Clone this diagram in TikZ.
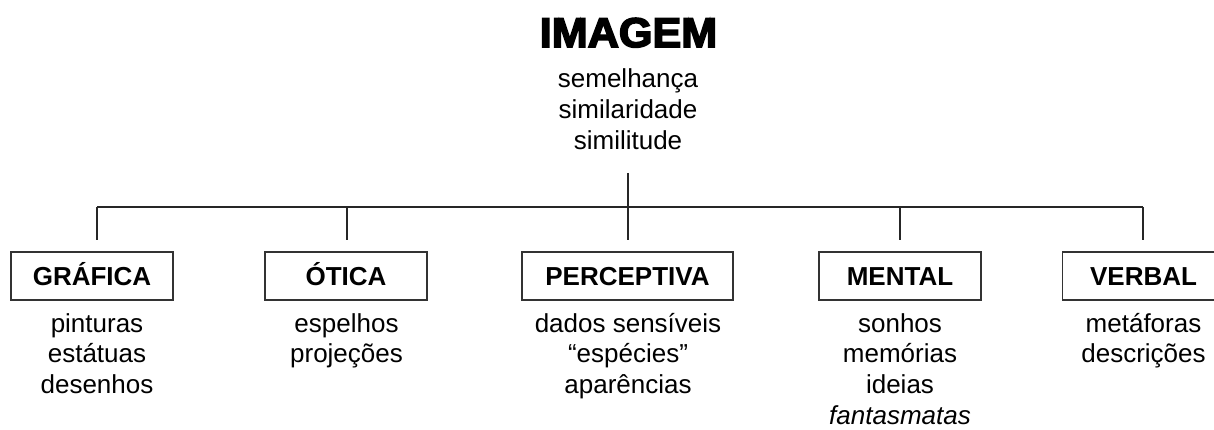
\documentclass[tikz,border=0pt]{standalone}
\usepackage{fontspec}
\setmainfont{Liberation Sans}
\newfontfamily\titlefont[FakeBold=4,FakeStretch=1.04]{Liberation Sans Bold}
\begin{document}
\begin{tikzpicture}[x=1pt,y=-1pt,
  conn/.style={line width=1.1pt,draw=black!85},
  catbox/.style={draw=black!80,line width=1.2pt,rectangle,minimum width=162pt,minimum height=48pt,
    inner sep=0pt,text height=18.6pt,text depth=0pt,font=\fontsize{26}{30.7}\selectfont\bfseries},
  desc/.style={anchor=base,inner sep=0pt,font=\fontsize{26}{30.7}\selectfont}]
\useasboundingbox (0,0) rectangle (1214,430);
% title
\node[anchor=base,inner sep=0pt,font=\fontsize{41.5}{48}\titlefont] (title) at (628.5,47) {IMAGEM};
\node[desc] (tdesc) at (628,88) {\begin{tabular}[t]{@{}c@{}}semelhança\\similaridade\\similitude\end{tabular}};
% boxes
\node[catbox] (graf) at (92,276) {GRÁFICA};
\node[catbox] (otic) at (346,276) {ÓTICA};
\node[catbox,minimum width=211pt] (perc) at (627.5,276) {PERCEPTIVA};
\node[catbox] (ment) at (900,276) {MENTAL};
\node[catbox] (verb) at (1143.5,276) {VERBAL};
% descriptions
\node[desc] (grafd) at (97,332) {\begin{tabular}[t]{@{}c@{}}pinturas\\estátuas\\desenhos\end{tabular}};
\node[desc] (oticd) at (346.5,332) {\begin{tabular}[t]{@{}c@{}}espelhos\\projeções\end{tabular}};
\node[desc] (percd) at (628,332) {\begin{tabular}[t]{@{}c@{}}dados sensíveis\\“espécies”\\aparências\end{tabular}};
\node[desc] (mentd) at (900,332) {\begin{tabular}[t]{@{}c@{}}sonhos\\memórias\\ideias\\\itshape fantasmatas\end{tabular}};
\node[desc] (verbd) at (1143.5,332) {\begin{tabular}[t]{@{}c@{}}metáforas\\descrições\end{tabular}};
% connector points
\coordinate (top) at (628,173);
\coordinate (barL) at (97,207);
\coordinate (barR) at (1143,207);
\coordinate (jO) at (347,207);
\coordinate (jM) at (900,207);
\coordinate (inG) at (97,240);
\coordinate (inO) at (347,240);
\coordinate (inP) at (628,240);
\coordinate (inM) at (900,240);
\coordinate (inV) at (1143,240);
% connectors
\draw[conn] (barL) -- (barR);
\draw[conn] (top) -- (inP);
\draw[conn] (barL) -- (inG);
\draw[conn] (jO) -- (inO);
\draw[conn] (jM) -- (inM);
\draw[conn] (barR) -- (inV);
\end{tikzpicture}
\end{document}
